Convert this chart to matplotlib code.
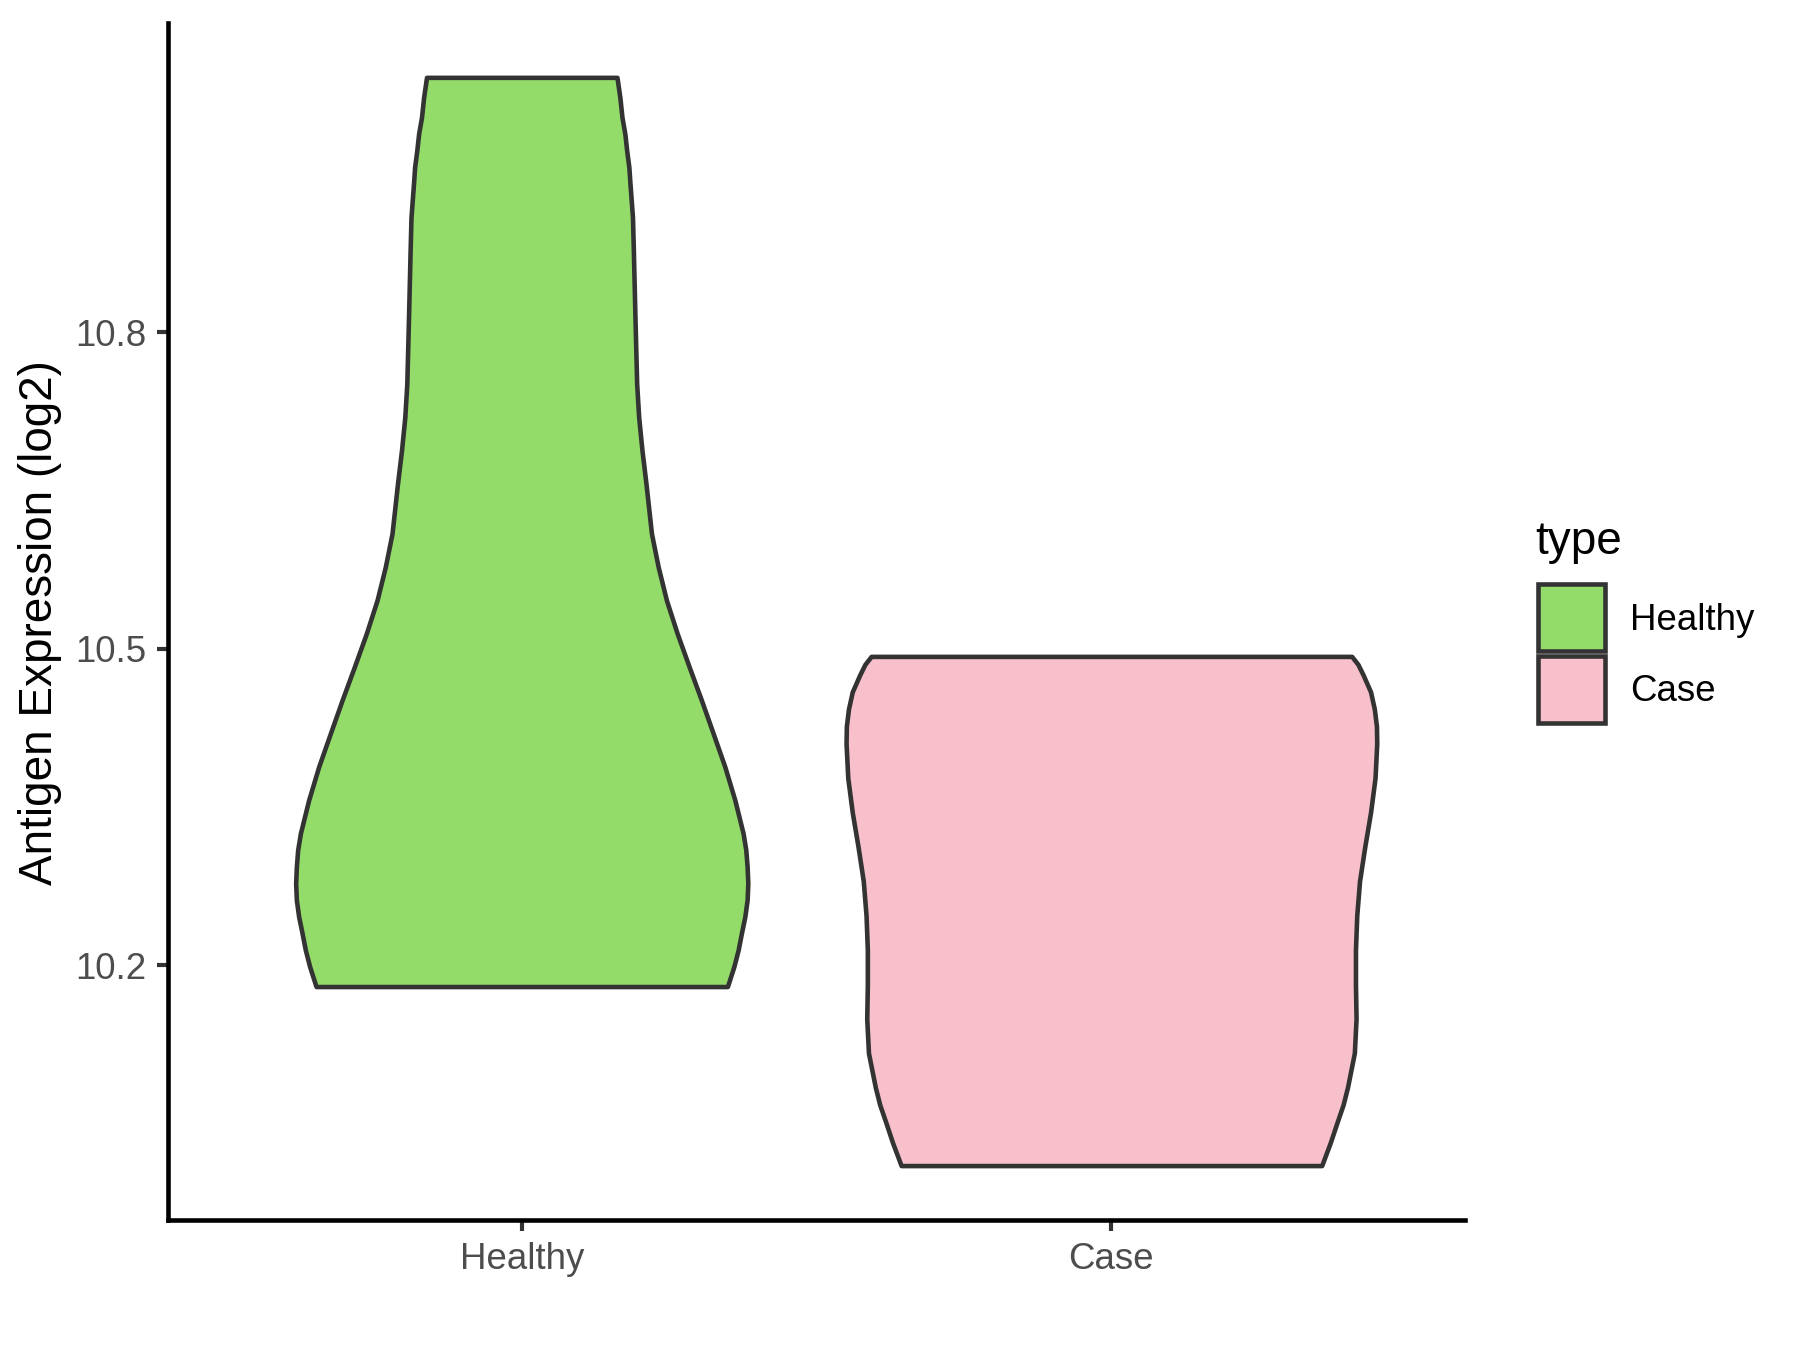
import matplotlib.pyplot as plt
from matplotlib.patches import Rectangle

# categories and colours
groups = ['Healthy', 'Case']
fill_colors = ['#94DC6A', '#F7C0CB']
edge_color = '#333333'

# violin outlines: expression value and half width (x units)
healthy_y = [11.0416, 11.0227, 11.0037, 10.9880, 10.9722, 10.9563, 10.9406, 10.9090,
             10.8775, 10.8143, 10.7512, 10.7196, 10.6881, 10.6565, 10.6092, 10.5776,
             10.5460, 10.5145, 10.4829, 10.4513, 10.4198, 10.3882, 10.3566, 10.3251,
             10.3093, 10.2935, 10.2778, 10.2619, 10.2461, 10.2304, 10.2146, 10.1988,
             10.1799]
healthy_hw = [0.1615, 0.1664, 0.1700, 0.1749, 0.1780, 0.1817, 0.1836, 0.1878,
              0.1893, 0.1920, 0.1949, 0.1983, 0.2039, 0.2107, 0.2200, 0.2314,
              0.2454, 0.2636, 0.2839, 0.3047, 0.3246, 0.3444, 0.3614, 0.3754,
              0.3800, 0.3822, 0.3834, 0.3822, 0.3783, 0.3725, 0.3670, 0.3597,
              0.3488]

case_y = [10.4928, 10.4853, 10.4756, 10.4592, 10.4429, 10.4266, 10.4103, 10.3777,
          10.3451, 10.3125, 10.2799, 10.2473, 10.2147, 10.1820, 10.1494, 10.1169,
          10.0842, 10.0679, 10.0516, 10.0320, 10.0102]
case_hw = [0.4075, 0.4180, 0.4266, 0.4395, 0.4459, 0.4495, 0.4500, 0.4471,
           0.4395, 0.4297, 0.4208, 0.4161, 0.4139, 0.4139, 0.4149, 0.4120,
           0.4003, 0.3929, 0.3829, 0.3712, 0.3566]

y_ticks = [10.2, 10.5, 10.8]

plt.rcParams['font.family'] = ['Liberation Sans', 'DejaVu Sans']

fig = plt.figure(figsize=(6, 4.5), dpi=300)
ax = fig.add_axes([0.0933, 0.0963, 0.7207, 0.8867])

profiles = [(healthy_y, healthy_hw), (case_y, case_hw)]
for i, (ys, hws) in enumerate(profiles):
    pos = i + 1
    left = [pos - h for h in hws]
    right = [pos + h for h in hws]
    ax.fill_betweenx(ys, left, right, facecolor=fill_colors[i],
                     edgecolor=edge_color, linewidth=1.1, joinstyle='round')

# ggplot style expansion
ax.set_xlim(0.4, 2.6)
lo = min(case_y)
hi = max(healthy_y)
pad = (hi - lo) * 0.05
ax.set_ylim(lo - pad, hi + pad)

ax.set_xticks([1, 2])
ax.set_xticklabels(groups)
ax.set_yticks(y_ticks)
ax.set_yticklabels([f'{t:.1f}' for t in y_ticks])

for s in ['top', 'right']:
    ax.spines[s].set_visible(False)
for s in ['left', 'bottom']:
    ax.spines[s].set_linewidth(1.1)
    ax.spines[s].set_color('black')

ax.tick_params(axis='both', length=2.75, width=1.0, color='#333333',
               labelcolor='#4D4D4D', labelsize=8.8, pad=2.5)

fig.text(0.0225, 0.539, 'Antigen Expression (log2)', fontsize=11, color='black',
         rotation=90, ha='center', va='center')

# legend drawn by hand, ggplot like
fig.text(0.853, 0.5985, 'type', fontsize=11, va='center', ha='left')
key_y = [0.5178, 0.4644]
label_y = [0.5407, 0.4881]
for i, g in enumerate(groups):
    fig.patches.append(Rectangle((0.8546, key_y[i]), 0.0372, 0.0496,
                                 transform=fig.transFigure, facecolor=fill_colors[i],
                                 edgecolor=edge_color, linewidth=1.1))
    fig.text(0.9056, label_y[i], g, fontsize=8.8, va='center', ha='left')

fig.savefig('out.png', dpi=300)
